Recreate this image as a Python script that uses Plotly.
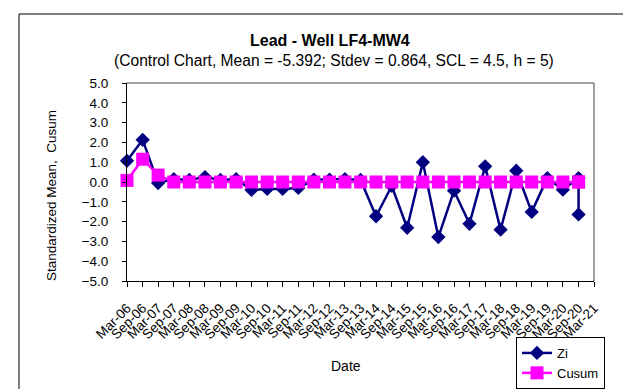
import plotly.graph_objects as go

dates = ["2006-03-01", "2006-09-01", "2007-03-01", "2007-09-01", "2008-03-01",
         "2008-09-01", "2009-03-01", "2009-09-01", "2010-03-01", "2010-09-01",
         "2011-03-01", "2011-09-01", "2012-03-01", "2012-09-01", "2013-03-01",
         "2013-09-01", "2014-03-01", "2014-09-01", "2015-03-01", "2015-09-01",
         "2016-03-01", "2016-09-01", "2017-03-01", "2017-09-01", "2018-03-01",
         "2018-09-01", "2019-03-01", "2019-09-01", "2020-03-01", "2020-09-01",
         "2020-09-01"]
zi = [1.07, 2.13, -0.05, 0.15, 0.10, 0.25, 0.10, 0.15, -0.40, -0.35,
      -0.35, -0.30, 0.12, 0.12, 0.15, 0.10, -1.73, -0.20, -2.31, 1.00,
      -2.78, -0.44, -2.11, 0.79, -2.41, 0.57, -1.51, 0.20, -0.39, 0.20,
      -1.64]
cusum = [0.08, 1.15, 0.35, 0, 0, 0, 0, 0, 0, 0,
         0, 0, 0, 0, 0, 0, 0, 0, 0, 0,
         0, 0, 0, 0, 0, 0, 0, 0, 0, 0,
         0]
y_ticks = [5, 4, 3, 2, 1, 0, -1, -2, -3, -4, -5]

font = "Liberation Sans, Arial, sans-serif"
W, H = 631, 389
L, R, T, B = 119, 586, 75, 273


def px_x(p):
    return (p - L) / (R - L)


def px_y(p):
    return (B - p) / (B - T)


fig = go.Figure()
fig.add_trace(go.Scatter(x=dates, y=zi, name="Zi", mode="lines+markers",
                         line=dict(color="#000080", width=2.5),
                         marker=dict(symbol="diamond", size=11, color="#000080"),
                         cliponaxis=False))
fig.add_trace(go.Scatter(x=dates, y=cusum, name="Cusum", mode="lines+markers",
                         line=dict(color="#FF00FF", width=2.5),
                         marker=dict(symbol="square", size=13, color="#FF00FF"),
                         cliponaxis=False))

fig.update_layout(
    width=W, height=H,
    margin=dict(l=L, r=W - R, t=T, b=H - B, autoexpand=False),
    paper_bgcolor="white", plot_bgcolor="white",
    font=dict(family=font, size=13, color="black"),
    showlegend=True,
    legend=dict(x=px_x(508), y=px_y(329), xanchor="left", yanchor="top",
                bordercolor="black", borderwidth=1, bgcolor="white",
                font=dict(size=13, family=font), tracegroupgap=0),
    xaxis=dict(type="date", range=["2006-03-01", "2021-03-01"],
               tick0="2006-03-01", dtick="M6", tickformat="%b-%y",
               tickangle=-45, ticks="outside", ticklen=5, tickcolor="black",
               ticklabelstandoff=8,
               showline=True, linecolor="black", linewidth=1, showgrid=False,
               zeroline=False, tickfont=dict(size=13.5, family=font)),
    yaxis=dict(range=[-5, 5], tickvals=y_ticks, tickformat=".1f",
               ticks="outside", ticklen=4, tickcolor="black",
               ticklabelstandoff=11,
               showline=True, linecolor="black", linewidth=1, showgrid=False,
               zeroline=False, tickfont=dict(size=13.5, family=font)),
)

# plot area top/right border (gray)
fig.add_shape(type="line", xref="paper", yref="paper", x0=0, x1=1, y0=1, y1=1,
              line=dict(color="#808080", width=1.5))
fig.add_shape(type="line", xref="paper", yref="paper", x0=1, x1=1, y0=0, y1=1,
              line=dict(color="#808080", width=1.5))
# outer chart border
fig.add_shape(type="rect", xref="paper", yref="paper",
              x0=px_x(11), x1=px_x(640), y0=px_y(400), y1=px_y(6),
              line=dict(color="black", width=1))

fig.add_annotation(text="<b>Lead - Well LF4-MW4</b>", xref="paper", yref="paper",
                   x=px_x(322), y=px_y(33), showarrow=False,
                   xanchor="center", yanchor="middle", font=dict(size=16, family=font))
fig.add_annotation(text="(Control Chart, Mean = -5.392; Stdev = 0.864, SCL = 4.5, h = 5)",
                   xref="paper", yref="paper",
                   x=px_x(326), y=px_y(53), showarrow=False,
                   xanchor="center", yanchor="middle", font=dict(size=15.6, family=font))
fig.add_annotation(text="Standardized Mean,  Cusum", xref="paper", yref="paper",
                   x=px_x(43), y=px_y(188), textangle=-90, showarrow=False,
                   xanchor="center", yanchor="middle", font=dict(size=13.5, family=font))
fig.add_annotation(text="Date", xref="paper", yref="paper",
                   x=px_x(338), y=px_y(358), showarrow=False,
                   xanchor="center", yanchor="middle", font=dict(size=14, family=font))

fig.write_html("out.html")
